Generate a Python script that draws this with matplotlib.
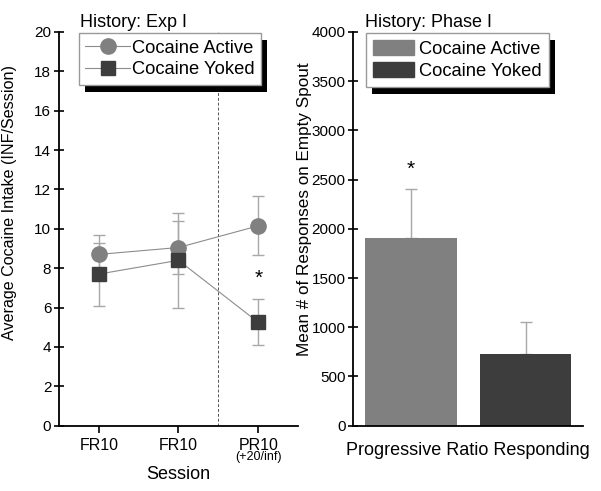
import matplotlib
matplotlib.use('Agg')
import matplotlib.pyplot as plt
from matplotlib.patches import Rectangle
from matplotlib.lines import Line2D
from matplotlib.transforms import IdentityTransform

plt.rcParams['font.family'] = ['Liberation Sans', 'DejaVu Sans']

# left panel: cocaine intake per session
sessions = ['FR10', 'FR10', 'PR10']
active_mean = [8.7, 9.05, 10.15]
active_err = [1.0, 1.35, 1.5]
yoked_mean = [7.7, 8.4, 5.25]
yoked_err = [1.6, 2.4, 1.17]
star_left = 7.5

# right panel: responses on empty spout
groups = ['Cocaine Active', 'Cocaine Yoked']
resp_mean = [1905, 726]
resp_err = [495, 325]
star_right = 2600

c_active = '#808080'
c_yoked = '#3d3d3d'
c_err = '#a8a8a8'
c_line = '#8c8c8c'

fig = plt.figure(figsize=(6.01, 4.91), dpi=100)
ax1 = fig.add_axes([0.098, 0.133, 0.398, 0.802])
ax2 = fig.add_axes([0.588, 0.133, 0.382, 0.802])

for ax in (ax1, ax2):
    ax.spines['top'].set_visible(False)
    ax.spines['right'].set_visible(False)
    ax.spines['left'].set_linewidth(1.3)
    ax.spines['bottom'].set_linewidth(1.3)
    ax.tick_params(axis='y', direction='inout', length=7, width=1.2, labelsize=11, pad=2)
    ax.tick_params(axis='x', direction='out', length=5, width=1.2, labelsize=11.5)

x = list(range(len(sessions)))
ax1.errorbar(x, active_mean, yerr=active_err, fmt='none', ecolor=c_err, elinewidth=1, capsize=4, capthick=1, zorder=2)
ax1.errorbar(x, yoked_mean, yerr=yoked_err, fmt='none', ecolor=c_err, elinewidth=1, capsize=4, capthick=1, zorder=2)
ax1.plot(x, active_mean, color=c_line, lw=0.8, marker='o', ms=11, mfc=c_active, mec=c_active, zorder=3)
ax1.plot(x, yoked_mean, color=c_line, lw=0.8, marker='s', ms=10, mfc=c_yoked, mec=c_yoked, zorder=4)
ax1.axvline(1.5, color='#555555', lw=0.7, ls=(0, (3, 2)), zorder=1)
ax1.text(2, star_left, '*', ha='center', va='center', fontsize=15)

ax1.set_xlim(-0.5, 2.5)
ax1.set_ylim(0, 20)
ax1.set_yticks(range(0, 21, 2))
ax1.set_xticks(x)
ax1.set_xticklabels(sessions)
ax1.text(2, -1.3, '(+20/inf)', ha='center', va='top', fontsize=9)
ax1.set_xlabel('Session', fontsize=13, labelpad=10)
ax1.set_ylabel('Average Cocaine Intake (INF/Session)', fontsize=11.6)
ax1.yaxis.set_label_coords(-0.176, 0.568)

h1 = [Line2D([], [], color=c_line, lw=0.8, marker='o', ms=11, mfc=c_active, mec=c_active),
      Line2D([], [], color=c_line, lw=0.8, marker='s', ms=10, mfc=c_yoked, mec=c_yoked)]
leg1 = ax1.legend(h1, ['Cocaine Active', 'Cocaine Yoked'], loc='upper left',
                  bbox_to_anchor=(0.084, 0.997), borderaxespad=0, fontsize=13.2,
                  fancybox=False, edgecolor='#999999', framealpha=1, handlelength=2.45,
                  handletextpad=0.1, labelspacing=0.25, borderpad=0.35)
ax1.text(0.09, 1.012, 'History: Exp I', transform=ax1.transAxes, fontsize=13, va='baseline')

# right panel bars
bx = list(range(len(groups)))
ax2.bar(bx, resp_mean, width=0.8, color=[c_active, c_yoked], zorder=2)
ax2.errorbar(bx, resp_mean, yerr=[[0, 0], resp_err], fmt='none', ecolor=c_err, elinewidth=1, capsize=4, capthick=1, zorder=1)
ax2.text(0, star_right, '*', ha='center', va='center', fontsize=15)
ax2.set_xlim(-0.5, 1.5)
ax2.set_ylim(0, 4000)
ax2.set_yticks(range(0, 4001, 500))
ax2.set_xticks([])
ax2.set_xlabel('Progressive Ratio Responding', fontsize=13, labelpad=12)
ax2.set_ylabel('Mean # of Responses on Empty Spout', fontsize=12.3)
ax2.yaxis.set_label_coords(-0.18, 0.551)

h2 = [Rectangle((0, 0), 1, 1, color=c_active), Rectangle((0, 0), 1, 1, color=c_yoked)]
leg2 = ax2.legend(h2, groups, loc='upper left', bbox_to_anchor=(0.055, 0.997), borderaxespad=0,
                  fontsize=13.2, fancybox=False, edgecolor='#999999', framealpha=1,
                  handlelength=2.2, handleheight=0.87, handletextpad=0.3, labelspacing=0.22, borderpad=0.4)
ax2.text(0.05, 1.012, 'History: Phase I', transform=ax2.transAxes, fontsize=13, va='baseline')

# black drop shadows behind the legend boxes
fig.canvas.draw()
for ax, leg in ((ax1, leg1), (ax2, leg2)):
    bb = leg.get_window_extent()
    shadow = Rectangle((bb.x0 + 6, bb.y0 - 7), bb.width, bb.height,
                       facecolor='black', edgecolor='none', clip_on=False)
    ax.add_artist(shadow)
    shadow.set_transform(IdentityTransform())
    shadow.set_zorder(4.9)

fig.savefig('out.png', dpi=100)
plt.close(fig)
